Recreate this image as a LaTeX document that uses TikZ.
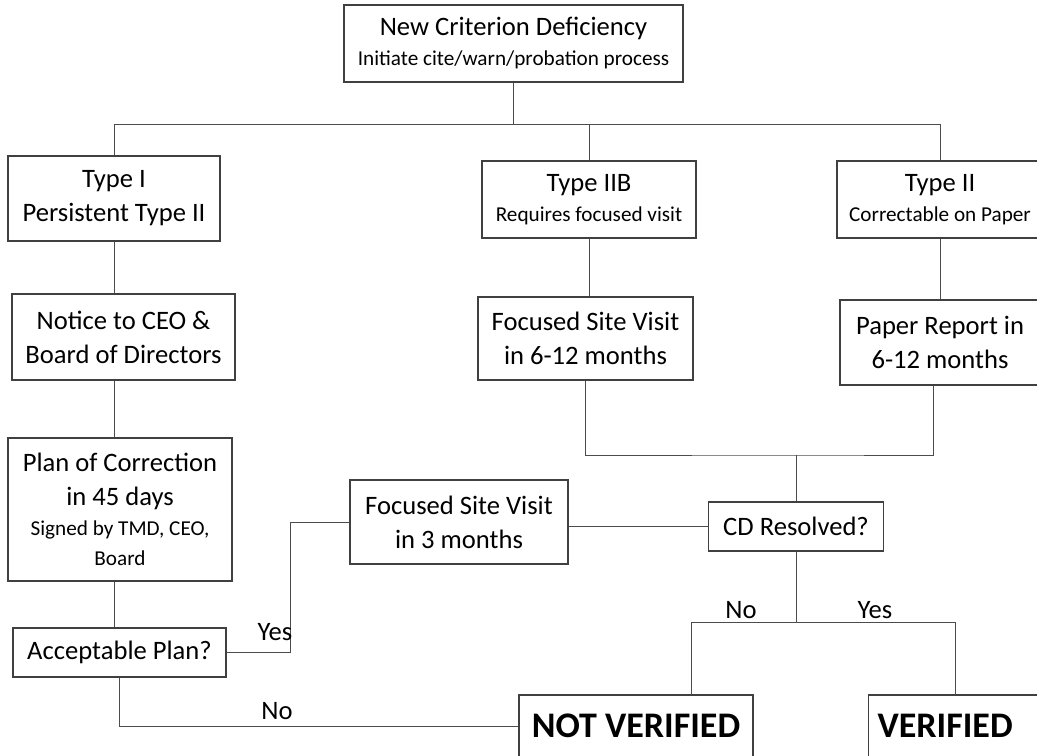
\documentclass[tikz,border=0pt]{standalone}
\usepackage{fontspec}
\setmainfont{Carlito}
\usepackage{tikz}
\newcommand{\subline}[1]{{\fontsize{10.6}{14}\selectfont #1}}

\begin{document}
\begin{tikzpicture}[x=0.5pt,y=-0.5pt,
    box/.style={draw=black!75,line width=0.6pt,align=center,inner sep=0pt,font=\fontsize{13.3}{17}\selectfont},
    link/.style={draw=black!70,line width=0.5pt},
    lbl/.style={font=\fontsize{13.3}{16}\selectfont,inner sep=0pt},
    final/.style={box,font=\fontsize{18}{22}\selectfont\bfseries}]
    \useasboundingbox (0,0) rectangle (1037,755);
    \clip (0,0) rectangle (1037,755);

    \node[box,minimum width=169.5pt,minimum height=38.5pt] (top) at (513.5,43.5) {New Criterion Deficiency\\[-2pt]\subline{Initiate cite/warn/probation process}};

    \node[box,minimum width=106pt,minimum height=42.5pt] (typeI) at (114,198.5) {Type I\\Persistent Type II};
    \node[box,minimum width=107pt,minimum height=38.5pt] (typeIIB) at (589,199.5) {Type IIB\\[-2pt]\subline{Requires focused visit}};
    \node[box,minimum width=103pt,minimum height=38.5pt] (typeII) at (940,199.5) {Type II\\[-2pt]\subline{Correctable on Paper}};

    \node[box,minimum width=111.5pt,minimum height=43pt] (notice) at (123.5,337) {Notice to CEO \&\\Board of Directors};
    \node[box,minimum width=107.5pt,minimum height=41.5pt] (focA) at (585.5,338.5) {Focused Site Visit\\in 6-12 months};
    \node[box,minimum width=100pt,minimum height=42.5pt] (paper) at (940,342.5) {Paper Report in\\6-12 months};

    \node[box,minimum width=112pt,minimum height=71.5pt] (plan) at (120,509.5) {Plan of Correction\\in 45 days\\[-2pt]\subline{Signed by TMD, CEO,}\\[-2pt]\subline{Board}};
    \node[box,minimum width=109pt,minimum height=42pt] (focB) at (459,522) {Focused Site Visit\\in 3 months};
    \node[box,minimum width=87.5pt,minimum height=24.5pt] (cd) at (796,526.5) {CD Resolved?};
    \node[box,minimum width=106.5pt,minimum height=24.5pt] (accept) at (119.5,652.5) {Acceptable Plan?};

    \node[final,minimum width=117pt,minimum height=31pt] (notver) at (636,726) {NOT VERIFIED};
    \node[final,anchor=west,align=left,text width=82pt,inner xsep=4.5pt,minimum height=31pt] (ver) at (868,726) {VERIFIED};

    \coordinate (bus) at (0,124);
    \coordinate (join) at (796,455);
    \coordinate (nobr) at (691,622);
    \coordinate (yesbr) at (955,622);

    \draw[link] (top.south) -- (top.south |- bus);
    \draw[link] (typeI.north) -- (typeI.north |- bus) -- (typeII.north |- bus) -- (typeII.north);
    \draw[link] (typeIIB.north) -- (typeIIB.north |- bus);

    \draw[link] (typeI.south) -- (typeI.south |- notice.north);
    \draw[link] (typeI.south |- notice.south) -- (typeI.south |- plan.north);
    \draw[link] (typeI.south |- plan.south) -- (typeI.south |- accept.north);
    \draw[link] (typeIIB.south) -- (focA.north -| typeIIB.south);
    \draw[link] (typeII.south) -- (paper.north);

    \draw[link] (focA.south) |- (join) -| ([xshift=-3.5pt]paper.south);
    \draw[link] (join) -- (cd.north);
    \draw[link] (cd.west) -- (cd.west -| focB.east);

    \draw[link] (accept.east) -- ++(64,0) |- (focB.west);
    \draw[link] (accept.south) |- (notver.west);

    \draw[link] (cd.south) -- (cd.south |- nobr);
    \draw[link] (nobr) -- (yesbr);
    \draw[link] (nobr) -- (nobr |- notver.north);
    \draw[link] (yesbr) -- (yesbr |- ver.north);

    \node[lbl] (yesA) at (275,632) {Yes};
    \node[lbl] (noA) at (277,711) {No};
    \node[lbl] (noB) at (741,610) {No};
    \node[lbl] (yesB) at (875,610) {Yes};
\end{tikzpicture}
\end{document}
